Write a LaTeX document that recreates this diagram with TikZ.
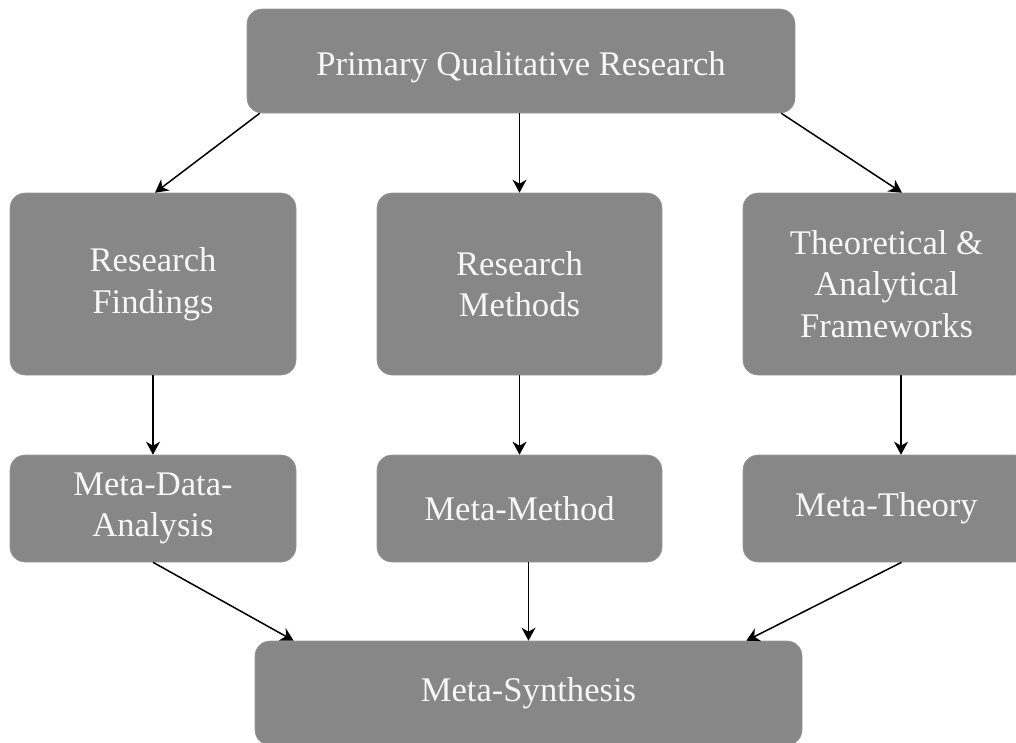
\documentclass[tikz,border=0pt]{standalone}
\usepackage{fontspec}
\setmainfont{Liberation Serif}
\usetikzlibrary{arrows.meta}
\definecolor{boxgray}{RGB}{135,135,135}
\definecolor{boxtext}{RGB}{247,247,247}
\begin{document}
\begin{tikzpicture}[x=1pt,y=-1pt,
  box/.style={fill=boxgray, draw=boxgray!85!white, line width=0.6pt,
    rounded corners=15pt, text=boxtext, align=center, inner sep=0pt,
    font=\fontsize{34.6}{41.5}\selectfont},
  link/.style={line width=1.5pt, -{Stealth[length=13pt,width=14pt,inset=4pt]}}]
\useasboundingbox (0,0) rectangle (1016,742);
\begin{scope}
\clip (0,0) rectangle (1016,742);
% top level
\node[box, minimum width=548pt, minimum height=104pt] (top) at (521,61) {\raisebox{-6pt}[\height][\depth]{Primary Qualitative Research}};
% first row
\node[box, minimum width=286pt, minimum height=182pt] (rf) at (153,284) {Research\\Findings};
\node[box, minimum width=285pt, minimum height=182pt] (rm) at (519.5,284) {Research\\Methods};
\node[box, minimum width=287pt, minimum height=182pt] (th) at (886.5,284) {Theoretical \&\\Analytical\\Frameworks};
% second row
\node[box, minimum width=286pt, minimum height=107pt] (mda) at (153,508.5) {Meta-Data-\\Analysis};
\node[box, minimum width=285pt, minimum height=107pt] (mm) at (519.5,508.5) {Meta-Method};
\node[box, minimum width=287pt, minimum height=107pt] (mt) at (886.5,508.5) {Meta-Theory};
% synthesis
\node[box, minimum width=547pt, minimum height=104pt] (ms) at (528.5,693) {Meta-Synthesis};
\end{scope}
% connectors
\draw[link] ([xshift=13pt]top.south west) -- ([xshift=2pt]rf.north);
\draw[link] (top.south -| rm.north) -- (rm.north);
\draw[link] ([xshift=-14pt]top.south east) -- ([xshift=15.5pt]th.north);
\draw[link] (rf.south) -- (mda.north);
\draw[link] (rm.south) -- (mm.north);
\draw[link] ([xshift=14.5pt]th.south) -- ([xshift=14.5pt]mt.north);
\draw[link] (mda.south) -- ([xshift=39pt]ms.north west);
\draw[link] (mm.south -| ms.north) -- (ms.north);
\draw[link] ([xshift=15pt]mt.south) -- ([xshift=-56pt]ms.north east);
\end{tikzpicture}
\end{document}
